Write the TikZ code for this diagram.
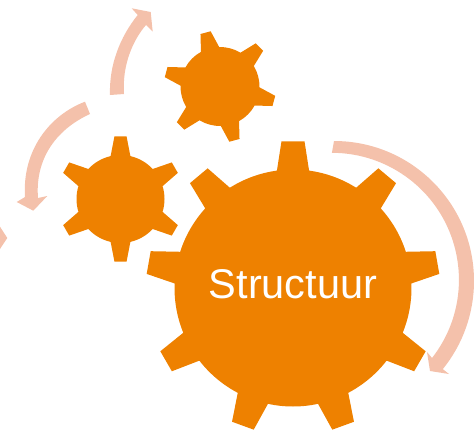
\documentclass[tikz,border=0pt]{standalone}
\usepackage{fontspec}
\setmainfont{Liberation Sans}
\definecolor{gearorange}{HTML}{EE8100}
\definecolor{arrowpink}{HTML}{F4C1AB}
% \gearpath{cx}{cy}{R}{tipR}{dBase}{dTip}{first angle}{step}{n-1}
\newcommand{\gearpath}[9]{%
  \fill[gearfill] \foreach \k in {0,...,#9} {
    \pgfextra{\pgfmathsetmacro{\ang}{#7-\k*#8}}
    [shift={(#1,#2)}]
    \ifnum\k=0 (\ang+#5:#3) \else -- (\ang+#5:#3) \fi
    -- (\ang+#6:#4) -- (\ang-#6:#4) -- (\ang-#5:#3)
    arc[start angle=\ang-#5, end angle=\ang-#8+#5, radius=#3]
  } -- cycle;}
\tikzset{gearfill/.style={fill=gearorange},
  cyclearrow/.style={fill=arrowpink},
  gearlabel/.style={text=white,font=\fontsize{41.5}{41.5}\selectfont,inner sep=0pt,anchor=base}}
\begin{document}
\begin{tikzpicture}[x=1pt,y=1pt]
\useasboundingbox (0,0) rectangle (474,-434);
% arrows
\fill[cyclearrow] (110,-95) .. controls (109,-65) and (120,-37) .. (137.7,-15)
  -- (131.7,-8.3) -- (150.7,-12) -- (152.7,-31.7) -- (146,-25)
  .. controls (133,-40) and (122,-65) .. (124,-94) -- cycle;
\fill[cyclearrow] (85,-101.7) .. controls (50,-115) and (22,-150) .. (25,-197)
  -- (16.7,-202) -- (33.3,-210.7) -- (47.3,-196) -- (38,-198)
  .. controls (35,-160) and (55,-130) .. (90,-114) -- cycle;
\fill[cyclearrow] (334,-141) arc[start angle=90,end angle=-39,radius=140]
  -- (449,-374) -- (430,-371) -- (427,-352) -- (432,-358)
  arc[start angle=-38,end angle=90,radius=127] -- cycle;
\fill[cyclearrow] (0,-226.7) -- (7.3,-238) -- (0,-249) -- cycle;
% gears
\gearpath{293}{-288}{118.5}{147}{7.8}{4.5}{90}{40}{8}
\gearpath{120.5}{-199}{44}{63}{13}{5.5}{90}{60}{5}
\gearpath{220}{-86.5}{39.5}{56}{13.8}{5.4}{105}{60}{5}
\node[gearlabel] (label) at (293,-298) {Structuur};
\end{tikzpicture}
\end{document}
